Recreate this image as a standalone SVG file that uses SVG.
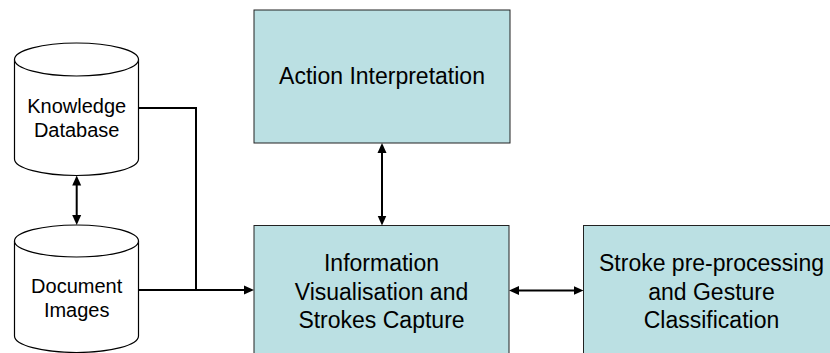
<svg xmlns="http://www.w3.org/2000/svg" width="830" height="353" viewBox="0 0 830 353">
<style>
.box{fill:#BBE0E3;stroke:#222;stroke-width:1}
.cyl{fill:#fff;stroke:#000;stroke-width:1.2}
.t{font-family:"Liberation Sans",Arial,sans-serif;fill:#000;text-anchor:middle}
.t20{font-size:20px}
.t23{font-size:23px}
.c{fill:none;stroke:#000;stroke-width:2}
</style>
<defs>
<marker id="ah" markerUnits="userSpaceOnUse" markerWidth="10" markerHeight="10" viewBox="0 0 10 10" refX="6" refY="5" orient="auto-start-reverse">
<path d="M0,0.5 L10,5 L0,9.5 z" fill="#000"/>
</marker>
</defs>
<rect width="830" height="353" fill="#fff"/>
<g id="knowledge-db">
<path class="cyl" d="M14.5,59.5 L14.5,159 A62,16.5 0 0 0 138.5,159 L138.5,59.5"/>
<ellipse class="cyl" cx="76.5" cy="59.5" rx="62" ry="16.5"/>
<text class="t t20" x="76.7" y="113">Knowledge</text>
<text class="t t20" x="76.7" y="137">Database</text>
</g>
<g id="document-images">
<path class="cyl" d="M14.5,241 L14.5,336 A62,16.5 0 0 0 138.5,336 L138.5,241"/>
<ellipse class="cyl" cx="76.5" cy="241" rx="62" ry="16"/>
<text class="t t20" x="76.7" y="293">Document</text>
<text class="t t20" x="76.7" y="317">Images</text>
</g>
<g id="action-interpretation">
<rect class="box" x="254" y="10" width="256" height="133"/>
<text class="t t23" x="382" y="83.5">Action Interpretation</text>
</g>
<g id="info-visualisation">
<rect class="box" x="254" y="225.5" width="255" height="140"/>
<text class="t t23" x="381.5" y="271.3">Information</text>
<text class="t t23" x="381.5" y="299.7">Visualisation and</text>
<text class="t t23" x="381.5" y="328">Strokes Capture</text>
</g>
<g id="stroke-preprocessing">
<rect class="box" x="583.5" y="225.5" width="260" height="140"/>
<text class="t t23" x="711.5" y="271.3">Stroke pre-processing</text>
<text class="t t23" x="711.5" y="299.7">and Gesture</text>
<text class="t t23" x="711.5" y="328">Classification</text>
</g>
<g id="connectors">
<polyline class="c" points="138.5,108 196,108 196,290"/>
<line class="c" x1="138.5" y1="290" x2="250" y2="290" marker-end="url(#ah)"/>
<line class="c" x1="76.7" y1="179.5" x2="76.7" y2="221" marker-start="url(#ah)" marker-end="url(#ah)"/>
<line class="c" x1="382" y1="147" x2="382" y2="221.5" marker-start="url(#ah)" marker-end="url(#ah)"/>
<line class="c" x1="513" y1="290.5" x2="579.5" y2="290.5" marker-start="url(#ah)" marker-end="url(#ah)"/>
</g>
</svg>
